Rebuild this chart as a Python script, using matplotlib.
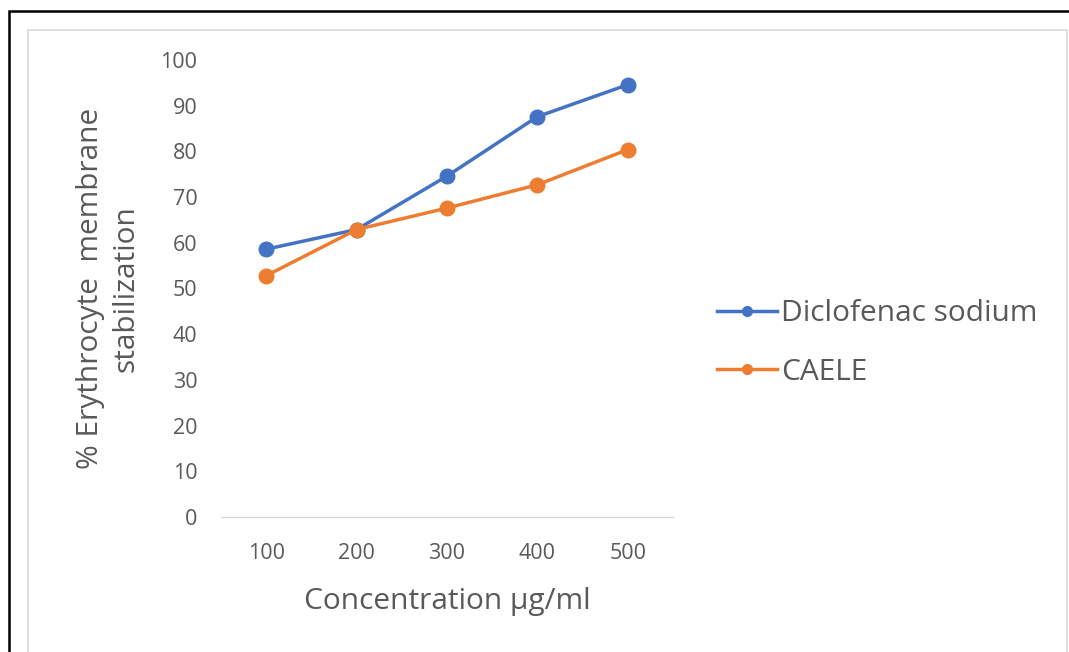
import matplotlib
matplotlib.use("Agg")
import matplotlib.pyplot as plt
from matplotlib.patches import Rectangle
from matplotlib.lines import Line2D

concentrations = ["100", "200", "300", "400", "500"]
diclofenac = [58.6, 62.9, 74.6, 87.6, 94.6]
caele = [52.8, 62.9, 67.6, 72.7, 80.4]
series_names = ["Diclofenac sodium", "CAELE"]
colors = ["#4472C4", "#ED7D31"]
yticks = list(range(0, 101, 10))

plt.rcParams["font.family"] = ["Open Sans", "DejaVu Sans"]

W, H = 1069, 652
fig = plt.figure(figsize=(W / 100, H / 100), dpi=100)
fig.patch.set_facecolor("white")

# frame lines around the chart
fig.add_artist(Rectangle((9 / W, -0.1), 1.2, 1 - 11 / H + 0.1, transform=fig.transFigure,
                         fill=False, edgecolor="black", linewidth=1.8))
fig.add_artist(Rectangle((28 / W, -0.1), (1067 - 28) / W, 1 - 30 / H + 0.1, transform=fig.transFigure,
                         fill=False, edgecolor="#D9D9D9", linewidth=1.2))

ax = fig.add_axes([221 / W, 1 - 517 / H, (673 - 221) / W, (517 - 60) / H])
x = list(range(len(concentrations)))
for vals, name, c in zip([diclofenac, caele], series_names, colors):
    ax.plot(x, vals, color=c, linewidth=2.5, marker="o", markersize=10.5, label=name,
            solid_capstyle="round", clip_on=False)

ax.set_xlim(-0.5, len(concentrations) - 0.5)
ax.set_ylim(0, 100)
ax.set_xticks(x)
ax.set_xticklabels(concentrations)
ax.set_yticks(yticks)
for s in ["top", "right", "left"]:
    ax.spines[s].set_visible(False)
ax.spines["bottom"].set_color("#D9D9D9")
ax.spines["bottom"].set_linewidth(1.0)
ax.tick_params(axis="both", length=0, labelsize=15.5, labelcolor="#595959")
ax.tick_params(axis="x", pad=19)
ax.tick_params(axis="y", pad=17)
ax.set_xlabel("Concentration µg/ml", fontsize=21.5, color="#595959", labelpad=16)
ax.set_ylabel("% Erythrocyte  membrane\nstabilization", fontsize=21.5, color="#595959",
              labelpad=14, linespacing=1.3)

handles = [Line2D([], [], color=c, linewidth=2.5, marker="o", markersize=7) for c in colors]
fig.legend(handles, series_names, loc="center left", bbox_to_anchor=(705 / W, 1 - 343 / H),
           frameon=False, fontsize=21.5, labelcolor="#595959", handlelength=2.0,
           handletextpad=0.15, labelspacing=1.0, borderaxespad=0)

fig.savefig("out.png", dpi=100, facecolor="white")
